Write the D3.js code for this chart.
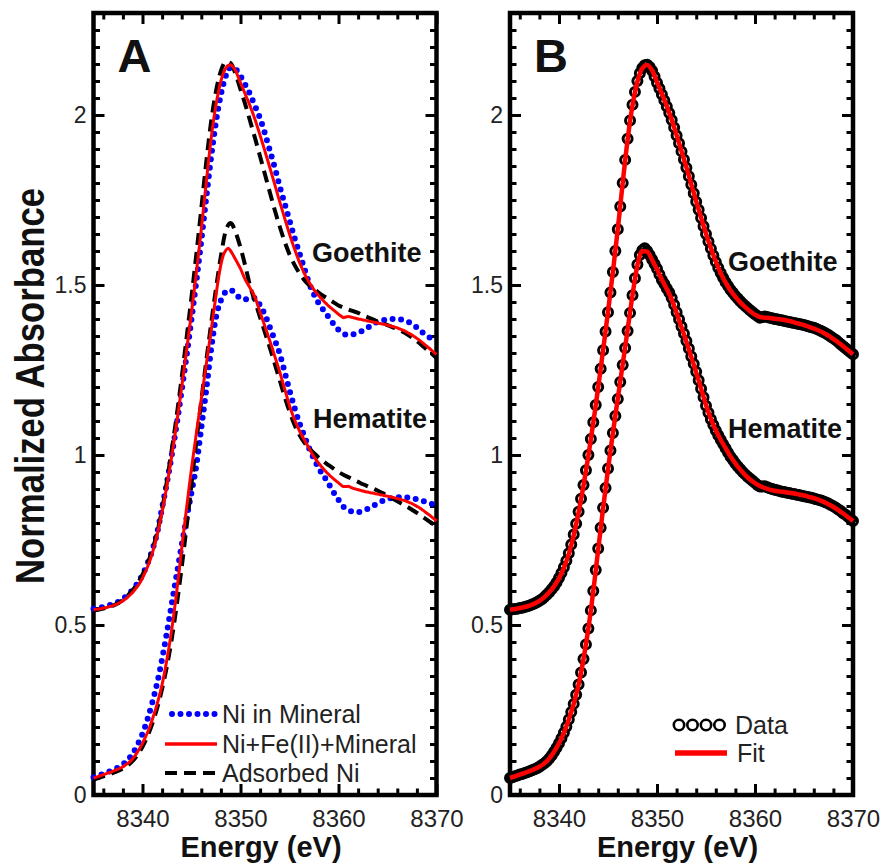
<!DOCTYPE html>
<html>
<head>
<meta charset="utf-8">
<script src="https://cdn.jsdelivr.net/npm/d3@7"></script>
<style>
  body { margin: 0; background: #fff; }
  svg { display: block; font-family: "Liberation Sans", Arial, Helvetica, sans-serif; }
</style>
</head>
<body>
<script>
// Ni K-edge XANES, normalized absorbance (goethite curves offset by +0.5)

// energy grids (eV): reference spectra every 0.5 eV, sample data every 0.25 eV
const lineEnergy = d3.range(8335, 8370.001, 0.5);
const dataEnergy = d3.range(8335, 8370.001, 0.25);

// Ni+Fe(II)+Mineral sample spectra (red line in A, circles in B)
const goethiteSample = [
  0.545,0.546,0.547,0.548,0.550,0.551,0.553,0.555,0.557,0.560,0.563,0.567,0.571,0.576,0.582,0.589,0.596,0.605,0.614,0.625,
  0.638,0.653,0.670,0.689,0.711,0.737,0.766,0.798,0.833,0.871,0.912,0.955,1.000,1.047,1.096,1.147,1.200,1.254,1.308,1.363,
  1.420,1.478,1.538,1.600,1.664,1.731,1.800,1.868,1.930,1.984,2.030,2.068,2.100,2.123,2.138,2.146,2.148,2.141,2.130,2.113,
  2.095,2.078,2.060,2.043,2.025,2.006,1.985,1.963,1.940,1.917,1.893,1.869,1.845,1.820,1.795,1.770,1.745,1.721,1.697,1.673,
  1.650,1.628,1.607,1.587,1.568,1.551,1.535,1.521,1.508,1.497,1.486,1.477,1.468,1.460,1.452,1.445,1.438,1.432,1.426,1.420,
  1.414,1.409,1.404,1.406,1.407,1.406,1.404,1.402,1.400,1.399,1.397,1.396,1.394,1.393,1.391,1.390,1.388,1.387,1.385,1.384,
  1.382,1.380,1.378,1.376,1.374,1.371,1.368,1.365,1.361,1.357,1.353,1.348,1.343,1.338,1.332,1.326,1.320,1.314,1.308,1.302,
  1.296
];
const hematiteSample = [
  0.050,0.052,0.055,0.057,0.060,0.062,0.065,0.067,0.070,0.073,0.076,0.079,0.083,0.088,0.093,0.099,0.107,0.116,0.127,0.139,
  0.152,0.167,0.183,0.201,0.222,0.244,0.268,0.295,0.325,0.360,0.400,0.443,0.490,0.543,0.600,0.662,0.725,0.786,0.845,0.903,
  0.960,1.013,1.065,1.115,1.165,1.215,1.265,1.315,1.365,1.418,1.470,1.520,1.560,1.588,1.602,1.608,1.600,1.588,1.575,1.562,
  1.548,1.531,1.515,1.503,1.490,1.478,1.462,1.442,1.420,1.399,1.378,1.357,1.335,1.313,1.290,1.268,1.245,1.220,1.195,1.170,
  1.145,1.124,1.105,1.088,1.072,1.058,1.045,1.032,1.020,1.007,0.995,0.985,0.975,0.966,0.958,0.950,0.943,0.936,0.930,0.924,
  0.918,0.912,0.907,0.907,0.908,0.905,0.902,0.900,0.898,0.896,0.894,0.892,0.891,0.889,0.888,0.886,0.885,0.883,0.882,0.880,
  0.879,0.877,0.876,0.874,0.872,0.870,0.868,0.866,0.863,0.860,0.857,0.853,0.849,0.845,0.840,0.835,0.829,0.824,0.818,0.812,
  0.806
];

// Ni in Mineral (blue dots)
const goethiteMineral = [
  0.548,0.550,0.553,0.557,0.562,0.568,0.577,0.589,0.604,0.623,0.648,
  0.680,0.720,0.772,0.845,0.920,1.002,1.092,1.190,1.292,1.400,1.512,
  1.630,1.755,1.875,1.980,2.060,2.115,2.140,2.135,2.115,2.088,2.060,
  2.025,1.990,1.945,1.895,1.845,1.790,1.740,1.690,1.640,1.595,1.550,
  1.505,1.472,1.445,1.425,1.405,1.385,1.368,1.357,1.353,1.355,1.360,
  1.366,1.375,1.385,1.392,1.396,1.398,1.400,1.400,1.398,1.393,1.386,
  1.375,1.362,1.352,1.342,1.335
];
const hematiteMineral = [
  0.052,0.057,0.062,0.068,0.074,0.081,0.090,0.103,0.122,0.148,0.180,
  0.222,0.272,0.330,0.400,0.480,0.565,0.650,0.735,0.815,0.890,0.970,
  1.080,1.190,1.310,1.405,1.455,1.480,1.485,1.475,1.460,1.458,1.462,
  1.462,1.440,1.412,1.375,1.338,1.298,1.245,1.190,1.140,1.095,1.057,
  1.020,0.988,0.960,0.938,0.915,0.890,0.868,0.848,0.838,0.833,0.832,
  0.836,0.842,0.850,0.858,0.865,0.870,0.874,0.876,0.876,0.875,0.873,
  0.870,0.866,0.861,0.856,0.850
];

// Adsorbed Ni (black dashes)
const goethiteAdsorbed = [
  0.543,0.545,0.548,0.552,0.557,0.564,0.574,0.587,0.603,0.623,0.648,
  0.680,0.720,0.772,0.840,0.925,1.018,1.118,1.228,1.345,1.465,1.592,
  1.725,1.860,1.980,2.070,2.130,2.156,2.152,2.120,2.075,2.030,1.980,
  1.930,1.878,1.825,1.772,1.720,1.672,1.628,1.590,1.560,1.535,1.515,
  1.500,1.488,1.477,1.467,1.458,1.449,1.440,1.434,1.428,1.423,1.418,
  1.411,1.405,1.399,1.393,1.388,1.382,1.376,1.370,1.363,1.355,1.346,
  1.335,1.323,1.310,1.298,1.285
];
const hematiteAdsorbed = [
  0.045,0.050,0.055,0.060,0.065,0.071,0.078,0.087,0.100,0.118,0.142,
  0.172,0.210,0.256,0.312,0.380,0.462,0.560,0.670,0.790,0.915,1.040,
  1.160,1.275,1.385,1.490,1.585,1.660,1.682,1.655,1.610,1.555,1.495,
  1.450,1.405,1.360,1.315,1.268,1.220,1.172,1.128,1.090,1.060,1.037,
  1.020,1.005,0.992,0.980,0.970,0.960,0.950,0.942,0.935,0.928,0.921,
  0.914,0.908,0.902,0.895,0.888,0.880,0.872,0.864,0.856,0.848,0.839,
  0.830,0.820,0.810,0.800,0.790
];

// linear-combination fits (red line in B)
const goethiteFit = [
  0.545,0.547,0.550,0.553,0.557,0.563,0.571,0.582,0.596,0.614,0.637,
  0.668,0.709,0.764,0.831,0.910,0.998,1.095,1.199,1.308,1.421,1.539,
  1.665,1.800,1.927,2.028,2.098,2.137,2.147,2.131,2.097,2.062,2.026,
  1.986,1.941,1.894,1.846,1.796,1.746,1.698,1.651,1.608,1.569,1.535,
  1.507,1.484,1.465,1.449,1.435,1.423,1.413,1.406,1.404,1.403,1.401,
  1.399,1.397,1.394,1.390,1.386,1.382,1.377,1.372,1.366,1.359,1.351,
  1.341,1.331,1.320,1.308,1.296
];
const hematiteFit = [
  0.050,0.055,0.060,0.065,0.070,0.076,0.083,0.093,0.107,0.127,0.152,
  0.183,0.222,0.268,0.325,0.400,0.490,0.600,0.722,0.843,0.958,1.065,
  1.166,1.267,1.368,1.470,1.558,1.600,1.598,1.574,1.546,1.516,1.488,
  1.458,1.418,1.376,1.333,1.288,1.243,1.195,1.147,1.106,1.073,1.045,
  1.020,0.996,0.975,0.957,0.941,0.928,0.917,0.909,0.903,0.898,0.895,
  0.893,0.891,0.889,0.887,0.884,0.881,0.877,0.873,0.868,0.862,0.855,
  0.847,0.838,0.828,0.817,0.806
];

const energyTicks = [8340, 8350, 8360, 8370];
const energyMinor = [8336, 8338, 8342, 8344, 8346, 8348, 8352, 8354, 8356, 8358, 8362, 8364, 8366, 8368];
const absTicks = [0, 0.5, 1, 1.5, 2];
const absTickLabels = ["0", "0.5", "1", "1.5", "2"];

const width = 886, height = 866;
const plotTop = 13, plotBottom = 795;

const svg = d3.select("body").append("svg")
  .attr("width", width)
  .attr("height", height);

const y = d3.scaleLinear().domain([0, 2.3]).range([plotBottom, plotTop]);
const absMinor = d3.range(0.05, 2.3, 0.05).filter(v => Math.abs(v * 2 - Math.round(v * 2)) > 1e-6);

const zip = (es, vs) => es.map((e, i) => [e, vs[i]]);

function drawPanel(left, right, letter) {
  const x = d3.scaleLinear().domain([8335, 8370]).range([left, right]);
  const g = svg.append("g");

  const styleAxis = sel => {
    sel.select(".domain").remove();
    sel.selectAll(".tick line").attr("stroke", "#000").attr("stroke-width", 3);
    sel.selectAll(".tick text").attr("fill", "#222").attr("font-family", null);
  };

  // bottom
  g.append("g").attr("transform", `translate(0,${plotBottom})`)
    .call(d3.axisBottom(x).tickValues(energyTicks).tickSize(-11).tickPadding(15).tickFormat(d3.format("d")))
    .call(styleAxis)
    .selectAll("text").attr("font-size", 24);
  g.append("g").attr("transform", `translate(0,${plotBottom})`)
    .call(d3.axisBottom(x).tickValues(energyMinor).tickSize(-6.5).tickFormat(""))
    .call(styleAxis);
  // top
  g.append("g").attr("transform", `translate(0,${plotTop})`)
    .call(d3.axisTop(x).tickValues(energyTicks).tickSize(-11).tickFormat(""))
    .call(styleAxis);
  g.append("g").attr("transform", `translate(0,${plotTop})`)
    .call(d3.axisTop(x).tickValues(energyMinor).tickSize(-6.5).tickFormat(""))
    .call(styleAxis);
  // left
  g.append("g").attr("transform", `translate(${left},0)`)
    .call(d3.axisLeft(y).tickValues(absTicks).tickSize(-11).tickPadding(7)
      .tickFormat((d, i) => absTickLabels[i]))
    .call(styleAxis)
    .selectAll("text").attr("font-size", 23);
  g.append("g").attr("transform", `translate(${left},0)`)
    .call(d3.axisLeft(y).tickValues(absMinor).tickSize(-6.5).tickFormat(""))
    .call(styleAxis);
  // right
  g.append("g").attr("transform", `translate(${right},0)`)
    .call(d3.axisRight(y).tickValues(absTicks).tickSize(-11).tickFormat(""))
    .call(styleAxis);
  g.append("g").attr("transform", `translate(${right},0)`)
    .call(d3.axisRight(y).tickValues(absMinor).tickSize(-6.5).tickFormat(""))
    .call(styleAxis);

  // frame
  g.append("rect")
    .attr("x", left).attr("y", plotTop)
    .attr("width", right - left).attr("height", plotBottom - plotTop)
    .attr("fill", "none").attr("stroke", "#000").attr("stroke-width", 4.5);

  g.append("text")
    .attr("x", left + 24).attr("y", 72)
    .attr("font-size", 47).attr("font-weight", "bold").attr("fill", "#111")
    .text(letter);

  g.append("text")
    .attr("x", (left + right) / 2 - 4).attr("y", 857)
    .attr("text-anchor", "middle")
    .attr("font-size", 29).attr("font-weight", "bold").attr("fill", "#111")
    .text("Energy (eV)");

  return { g, x };
}

const A = drawPanel(93.5, 436.5, "A");
const B = drawPanel(510, 853, "B");

// ---- panel A: three spectra per mineral
const lineA = d3.line().x(d => A.x(d[0])).y(d => y(d[1])).curve(d3.curveMonotoneX);

[goethiteMineral, hematiteMineral].forEach(vs => {
  A.g.append("path").datum(zip(lineEnergy, vs)).attr("d", lineA)
    .attr("fill", "none").attr("stroke", "#0000ff").attr("stroke-width", 6)
    .attr("stroke-linecap", "round").attr("stroke-dasharray", "0 8.5");
});
[goethiteAdsorbed, hematiteAdsorbed].forEach(vs => {
  A.g.append("path").datum(zip(lineEnergy, vs)).attr("d", lineA)
    .attr("fill", "none").attr("stroke", "#000").attr("stroke-width", 4)
    .attr("stroke-dasharray", "12 7");
});
[goethiteSample, hematiteSample].forEach(vs => {
  A.g.append("path").datum(zip(dataEnergy, vs)).attr("d", lineA)
    .attr("fill", "none").attr("stroke", "#ff0000").attr("stroke-width", 3);
});

A.g.append("text").attr("x", 312).attr("y", 262)
  .attr("font-size", 27).attr("font-weight", "bold").attr("fill", "#111").text("Goethite");
A.g.append("text").attr("x", 313).attr("y", 428)
  .attr("font-size", 27).attr("font-weight", "bold").attr("fill", "#111").text("Hematite");

// legend A
const legA = [
  { label: "Ni in Mineral", y: 714, x0: 172, stroke: "#0000ff", w: 6, dash: "0 8.5", cap: "round" },
  { label: "Ni+Fe(II)+Mineral", y: 744, x0: 165, stroke: "#ff0000", w: 3.5, dash: null, cap: "butt" },
  { label: "Adsorbed Ni", y: 773, x0: 165, stroke: "#000", w: 4, dash: "12 7", cap: "butt" }
];
legA.forEach(l => {
  A.g.append("line").attr("x1", l.x0).attr("x2", 217).attr("y1", l.y).attr("y2", l.y)
    .attr("stroke", l.stroke).attr("stroke-width", l.w)
    .attr("stroke-dasharray", l.dash).attr("stroke-linecap", l.cap);
  A.g.append("text").attr("x", 222).attr("y", l.y + 9)
    .attr("font-size", 25).attr("fill", "#222").text(l.label);
});

// ---- panel B: data and fit
const lineB = d3.line().x(d => B.x(d[0])).y(d => y(d[1])).curve(d3.curveMonotoneX);

[goethiteSample, hematiteSample].forEach(vs => {
  B.g.append("g").selectAll("circle")
    .data(zip(dataEnergy, vs))
    .join("circle")
    .attr("cx", d => B.x(d[0])).attr("cy", d => y(d[1])).attr("r", 4.5)
    .attr("fill", "none").attr("stroke", "#000").attr("stroke-width", 3);
});
[goethiteFit, hematiteFit].forEach(vs => {
  B.g.append("path").datum(zip(lineEnergy, vs)).attr("d", lineB)
    .attr("fill", "none").attr("stroke", "#ff0000").attr("stroke-width", 4.5);
});

B.g.append("text").attr("x", 728).attr("y", 271)
  .attr("font-size", 27).attr("font-weight", "bold").attr("fill", "#111").text("Goethite");
B.g.append("text").attr("x", 728).attr("y", 438)
  .attr("font-size", 27).attr("font-weight", "bold").attr("fill", "#111").text("Hematite");

// legend B
B.g.append("g").selectAll("circle")
  .data([679, 692.5, 706, 719.5])
  .join("circle")
  .attr("cx", d => d).attr("cy", 725).attr("r", 5.2)
  .attr("fill", "none").attr("stroke", "#000").attr("stroke-width", 2.6);
B.g.append("text").attr("x", 735).attr("y", 734)
  .attr("font-size", 25).attr("fill", "#222").text("Data");
B.g.append("line").attr("x1", 675).attr("x2", 727).attr("y1", 753).attr("y2", 753)
  .attr("stroke", "#ff0000").attr("stroke-width", 5.5);
B.g.append("text").attr("x", 737).attr("y", 762)
  .attr("font-size", 25).attr("fill", "#222").text("Fit");

// y axis title
svg.append("text")
  .attr("transform", "translate(44,386) rotate(-90)")
  .attr("text-anchor", "middle")
  .attr("font-size", 40).attr("font-weight", "bold").attr("fill", "#111")
  .attr("textLength", 396).attr("lengthAdjust", "spacingAndGlyphs")
  .text("Normalized Absorbance");
</script>
</body>
</html>
